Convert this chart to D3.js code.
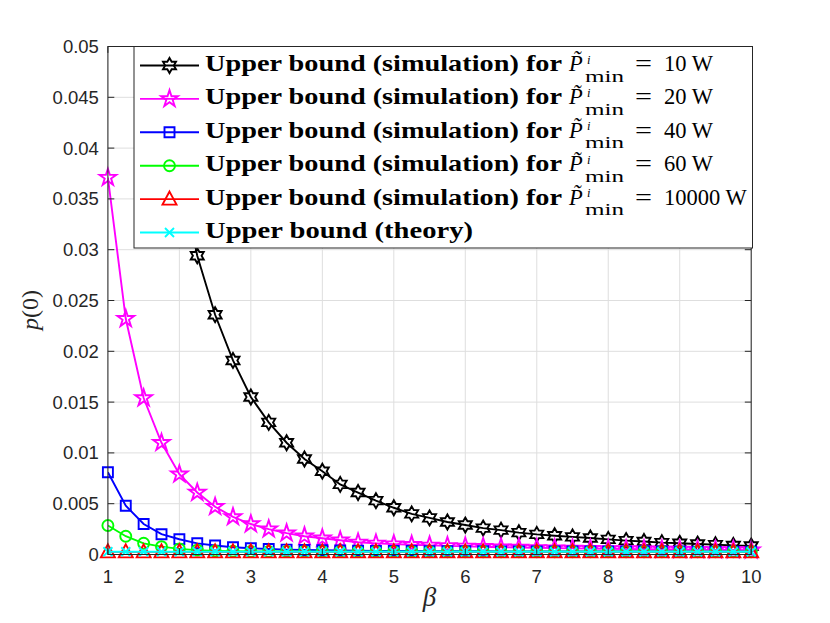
<!DOCTYPE html>
<html>
<head>
<meta charset="utf-8">
<script src="https://cdn.jsdelivr.net/npm/d3@7"></script>
<style>
  body { margin: 0; background: #fff; }
  svg { display: block; }
</style>
</head>
<body>
<div id="chart"></div>
<script>
// beta on the x axis (1:0.25:10)
const beta = [1, 1.25, 1.5, 1.75, 2, 2.25, 2.5, 2.75, 3, 3.25, 3.5, 3.75, 4, 4.25, 4.5, 4.75,
  5, 5.25, 5.5, 5.75, 6, 6.25, 6.5, 6.75, 7, 7.25, 7.5, 7.75, 8, 8.25, 8.5, 8.75,
  9, 9.25, 9.5, 9.75, 10];

// p(0), one array per curve
const p10 = [0.148, 0.101, 0.072, 0.052, 0.038, 0.0294, 0.0236, 0.0191, 0.0155, 0.0130, 0.0110, 0.0094,
  0.0082, 0.0069, 0.0061, 0.0053, 0.0046, 0.0040, 0.0036, 0.0032, 0.0029, 0.0026, 0.0024, 0.00215,
  0.00198, 0.00185, 0.00173, 0.00163, 0.00149, 0.00137, 0.00128, 0.00117, 0.0011, 0.00103, 0.00097,
  0.00089, 0.00083];
const p20 = [0.0371, 0.0232, 0.0154, 0.0110, 0.0079, 0.0061, 0.0047, 0.0037, 0.0030, 0.0025, 0.0021, 0.0018,
  0.0016, 0.0014, 0.0012, 0.0011, 0.00102, 0.00096, 0.0009, 0.00085, 0.0008, 0.00076, 0.00072, 0.00069,
  0.00066, 0.00063, 0.0006, 0.00058, 0.00056, 0.00054, 0.00052, 0.0005, 0.00049, 0.00047, 0.00046,
  0.00045, 0.00043];
const p40 = [0.0081, 0.0048, 0.0030, 0.0020, 0.0015, 0.0011, 0.00088, 0.00072, 0.00062, 0.00054, 0.00048, 0.00045,
  0.00042, 0.0004, 0.00038, 0.00036, 0.00035, 0.00034, 0.00033, 0.00033, 0.00032, 0.00032, 0.00031, 0.00031,
  0.0003, 0.0003, 0.0003, 0.0003, 0.00029, 0.00029, 0.00029, 0.00029, 0.00029, 0.00028, 0.00028,
  0.00028, 0.00028];
const p60 = [0.00285, 0.0018, 0.0011, 0.00077, 0.00055, 0.00043, 0.00036, 0.00032, 0.0003, 0.00029, 0.00029, 0.00028,
  0.00028, 0.00028, 0.00028, 0.00028, 0.00028, 0.00028, 0.00027, 0.00027, 0.00027, 0.00027, 0.00027, 0.00027,
  0.00027, 0.00027, 0.00027, 0.00027, 0.00027, 0.00027, 0.00027, 0.00027, 0.00027, 0.00027, 0.00027,
  0.00027, 0.00027];
const p10000 = [0.00026, 0.00026, 0.00026, 0.00026, 0.00026, 0.00026, 0.00026, 0.00026, 0.00026, 0.00026, 0.00026, 0.00026,
  0.00026, 0.00026, 0.00026, 0.00026, 0.00026, 0.00026, 0.00026, 0.00026, 0.00026, 0.00026, 0.00026, 0.00026,
  0.00026, 0.00026, 0.00026, 0.00026, 0.00026, 0.00026, 0.00026, 0.00026, 0.00026, 0.00026, 0.00026,
  0.00026, 0.00026];
const pTheory = [0.00027, 0.00027, 0.00027, 0.00027, 0.00027, 0.00027, 0.00027, 0.00027, 0.00027, 0.00027, 0.00027, 0.00027,
  0.00027, 0.00027, 0.00027, 0.00027, 0.00027, 0.00027, 0.00027, 0.00027, 0.00027, 0.00027, 0.00027, 0.00027,
  0.00027, 0.00027, 0.00027, 0.00027, 0.00027, 0.00027, 0.00027, 0.00027, 0.00027, 0.00027, 0.00027,
  0.00027, 0.00027];

// axis ticks
const xTicks = [1, 2, 3, 4, 5, 6, 7, 8, 9, 10];
const yTicks = [0, 0.005, 0.01, 0.015, 0.02, 0.025, 0.03, 0.035, 0.04, 0.045, 0.05];
const yTickLabels = ["0", "0.005", "0.01", "0.015", "0.02", "0.025", "0.03", "0.035", "0.04", "0.045", "0.05"];

// legend: the power values of the simulation curves
const legendPowers = ["10", "20", "40", "60", "10000"];

const series = [
  { values: p10,     color: "#000000", marker: "hexagram" },
  { values: p20,     color: "#ff00ff", marker: "pentagram" },
  { values: p40,     color: "#0000ff", marker: "square" },
  { values: p60,     color: "#00ff00", marker: "circle" },
  { values: p10000,  color: "#ff0000", marker: "triangle" },
  { values: pTheory, color: "#00ffff", marker: "x" }
];

const width = 830;
const height = 623;
// matlab default axes position
const plot = { left: 107.9, right: 751.2, top: 46.5, bottom: 554.5 };

const svg = d3.select("#chart").append("svg")
  .attr("width", width)
  .attr("height", height);

const x = d3.scaleLinear().domain([1, 10]).range([plot.left, plot.right]);
const y = d3.scaleLinear().domain([0, 0.05]).range([plot.bottom, plot.top]);

const axisColor = "#262626";
const tickFont = "'Liberation Sans', Arial, Helvetica, sans-serif";
const mathFont = "'Liberation Serif', 'Times New Roman', serif";
const lw = 1.9;

// marker shapes, drawn around (0,0)
function markerPath(type) {
  const p = d3.path();
  if (type === "hexagram" || type === "pentagram") {
    const n = type === "hexagram" ? 6 : 5;
    const R = type === "hexagram" ? 7.5 : 8.8;
    const r = type === "hexagram" ? R / Math.sqrt(3) : R * 0.382;
    for (let k = 0; k < n * 2; k++) {
      const a = -Math.PI / 2 + k * Math.PI / n;
      const rr = k % 2 === 0 ? R : r;
      if (k === 0) p.moveTo(rr * Math.cos(a), rr * Math.sin(a));
      else p.lineTo(rr * Math.cos(a), rr * Math.sin(a));
    }
    p.closePath();
  } else if (type === "square") {
    p.rect(-5, -5, 10, 10);
  } else if (type === "circle") {
    p.moveTo(5.5, 0);
    p.arc(0, 0, 5.5, 0, 2 * Math.PI);
  } else if (type === "triangle") {
    p.moveTo(0, -7.5);
    p.lineTo(7, 5.5);
    p.lineTo(-7, 5.5);
    p.closePath();
  } else if (type === "x") {
    p.moveTo(-4.5, -4.5); p.lineTo(4.5, 4.5);
    p.moveTo(4.5, -4.5); p.lineTo(-4.5, 4.5);
  }
  return p.toString();
}

// grid
svg.append("g")
  .selectAll("line")
  .data(xTicks)
  .join("line")
  .attr("x1", d => x(d)).attr("x2", d => x(d))
  .attr("y1", plot.top).attr("y2", plot.bottom)
  .attr("stroke", "#dedede").attr("stroke-width", 1);
svg.append("g")
  .selectAll("line")
  .data(yTicks)
  .join("line")
  .attr("y1", d => y(d)).attr("y2", d => y(d))
  .attr("x1", plot.left).attr("x2", plot.right)
  .attr("stroke", "#dedede").attr("stroke-width", 1);

// clip lines to the axes box
svg.append("clipPath").attr("id", "clip")
  .append("rect")
  .attr("x", plot.left).attr("y", plot.top)
  .attr("width", plot.right - plot.left).attr("height", plot.bottom - plot.top);

const line = d3.line()
  .x((d, i) => x(beta[i]))
  .y(d => y(d));

const dataG = svg.append("g");
series.forEach(s => {
  dataG.append("path")
    .datum(s.values)
    .attr("clip-path", "url(#clip)")
    .attr("fill", "none")
    .attr("stroke", s.color)
    .attr("stroke-width", lw)
    .attr("d", line);

  // markers only where the point is inside the axes
  const pts = s.values.map((v, i) => ({ bx: beta[i], v: v })).filter(d => d.v <= 0.05);
  dataG.append("g")
    .selectAll("path")
    .data(pts)
    .join("path")
    .attr("transform", d => `translate(${x(d.bx)},${y(d.v)})`)
    .attr("d", markerPath(s.marker))
    .attr("fill", "none")
    .attr("stroke", s.color)
    .attr("stroke-width", lw);
});

// axes box and ticks (ticks point inward)
const axes = svg.append("g");
const tl = 6.4;
axes.append("rect")
  .attr("x", plot.left).attr("y", plot.top)
  .attr("width", plot.right - plot.left).attr("height", plot.bottom - plot.top)
  .attr("fill", "none").attr("stroke", axisColor).attr("stroke-width", 1);

axes.append("g").selectAll("line")
  .data(xTicks)
  .join("line")
  .attr("x1", d => x(d)).attr("x2", d => x(d))
  .attr("y1", plot.bottom).attr("y2", plot.bottom - tl)
  .attr("stroke", axisColor);
axes.append("g").selectAll("line")
  .data(xTicks)
  .join("line")
  .attr("x1", d => x(d)).attr("x2", d => x(d))
  .attr("y1", plot.top).attr("y2", plot.top + tl)
  .attr("stroke", axisColor);
axes.append("g").selectAll("line")
  .data(yTicks)
  .join("line")
  .attr("y1", d => y(d)).attr("y2", d => y(d))
  .attr("x1", plot.left).attr("x2", plot.left + tl)
  .attr("stroke", axisColor);
axes.append("g").selectAll("line")
  .data(yTicks)
  .join("line")
  .attr("y1", d => y(d)).attr("y2", d => y(d))
  .attr("x1", plot.right).attr("x2", plot.right - tl)
  .attr("stroke", axisColor);

// tick labels
axes.append("g").selectAll("text")
  .data(xTicks)
  .join("text")
  .attr("x", d => x(d))
  .attr("y", plot.bottom + 28)
  .attr("text-anchor", "middle")
  .attr("font-family", tickFont)
  .attr("font-size", 18.5)
  .attr("fill", axisColor)
  .text(d => d);
axes.append("g").selectAll("text")
  .data(yTicks)
  .join("text")
  .attr("x", plot.left - 9)
  .attr("y", d => y(d) + 6.5)
  .attr("text-anchor", "end")
  .attr("font-family", tickFont)
  .attr("font-size", 18.5)
  .attr("fill", axisColor)
  .text((d, i) => yTickLabels[i]);

// axis titles
svg.append("text")
  .attr("x", (plot.left + plot.right) / 2)
  .attr("y", 606)
  .attr("text-anchor", "middle")
  .attr("font-family", mathFont)
  .attr("font-style", "italic")
  .attr("font-size", 27)
  .attr("fill", axisColor)
  .text("β");

const yl = svg.append("text")
  .attr("transform", "translate(38,310) rotate(-90)")
  .attr("text-anchor", "middle")
  .attr("font-family", mathFont)
  .attr("font-size", 24)
  .attr("fill", axisColor);
yl.append("tspan").attr("font-style", "italic").text("p");
yl.append("tspan").text("(0)");

// legend box
const lg = { left: 134, right: 752.5, top: 46.5, bottom: 248, row0: 65.5, step: 33.4 };
const legend = svg.append("g");
legend.append("rect")
  .attr("x", lg.left).attr("y", lg.top)
  .attr("width", lg.right - lg.left).attr("height", lg.bottom - lg.top)
  .attr("fill", "#fff").attr("stroke", axisColor).attr("stroke-width", 1);

series.forEach((s, i) => {
  const cy = lg.row0 + i * lg.step;
  const row = legend.append("g");
  row.append("line")
    .attr("x1", 140).attr("x2", 199)
    .attr("y1", cy).attr("y2", cy)
    .attr("stroke", s.color).attr("stroke-width", lw);
  row.append("path")
    .attr("transform", `translate(169.5,${cy})`)
    .attr("d", markerPath(s.marker))
    .attr("fill", "none")
    .attr("stroke", s.color)
    .attr("stroke-width", lw);

  const base = cy + 5.5;
  const label = row.append("text")
    .attr("x", 205).attr("y", base)
    .attr("font-family", mathFont)
    .attr("font-size", 22.5)
    .attr("font-weight", "bold")
    .attr("fill", "#000")
    .attr("lengthAdjust", "spacingAndGlyphs");

  if (i < legendPowers.length) {
    label.attr("textLength", 357).text("Upper bound (simulation) for");

    // math part: tilde P with superscript i and subscript min, then = value W
    const m = row.append("text")
      .attr("font-family", mathFont)
      .attr("font-size", 22.5)
      .attr("fill", "#000");
    m.append("tspan").attr("x", 569).attr("y", base).attr("font-style", "italic").text("P\u0303");
    m.append("tspan").attr("x", 587).attr("y", base - 7.5).attr("font-size", 12.5).attr("font-style", "italic").text("i");
    m.append("tspan").attr("x", 585).attr("y", base + 10.5).attr("font-size", 16.5)
      .attr("textLength", 39).attr("lengthAdjust", "spacingAndGlyphs").text("min");
    m.append("tspan").attr("x", 635).attr("y", base)
      .attr("textLength", 17).attr("lengthAdjust", "spacingAndGlyphs").text("=");
    m.append("tspan").attr("x", 664).attr("y", base).text(legendPowers[i] + " W");
  } else {
    label.attr("textLength", 268).text("Upper bound (theory)");
  }
});
</script>
</body>
</html>
